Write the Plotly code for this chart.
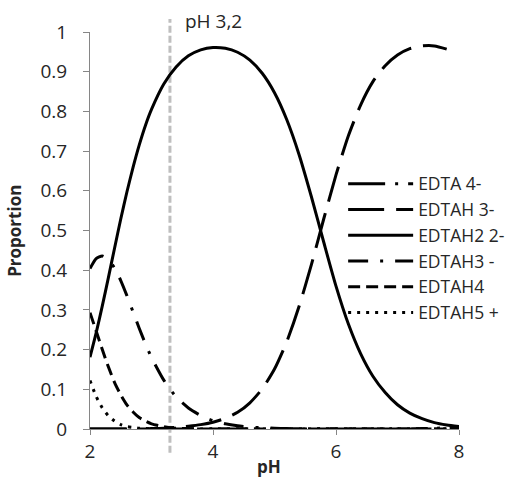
import plotly.graph_objects as go

ph = [2.0, 2.1, 2.2, 2.3, 2.4, 2.5, 2.6, 2.7, 2.8, 2.9, 3.0, 3.2, 3.4, 3.6, 3.8, 4.0,
      4.2, 4.4, 4.6, 4.8, 5.0, 5.2, 5.4, 5.6, 5.8, 6.0, 6.2, 6.4, 6.6, 6.8, 7.0, 7.2,
      7.4, 7.6, 7.8, 8.0]

edta4 = [0, 0, 0, 0, 0, 0, 0, 0, 0, 0, 0, 0, 0, 0, 0, 0,
         0, 0, 0, 0, 0, 0, 0, 0, 0, 0, 0, 0, 0, 0, 0, 0,
         0.001, 0.002, 0.003, 0.005]
edtah3 = [0, 0, 0, 0, 0, 0, 0, 0, 0, 0, 0.001, 0.002, 0.004, 0.007, 0.011, 0.017,
          0.027, 0.042, 0.066, 0.101, 0.151, 0.220, 0.309, 0.414, 0.529, 0.640, 0.738, 0.816,
          0.875, 0.915, 0.942, 0.958, 0.965, 0.965, 0.957, None]
edtah2 = [0.181, 0.242, 0.310, 0.382, 0.456, 0.529, 0.597, 0.659, 0.715, 0.764, 0.805, 0.869,
          0.912, 0.940, 0.955, 0.961, 0.959, 0.949, 0.929, 0.896, 0.847, 0.779, 0.691, 0.585,
          0.471, 0.360, 0.265, 0.190, 0.133, 0.092, 0.061, 0.040, 0.026, 0.016, 0.010, 0.006]
edtah3m = [0.404, 0.429, 0.436, 0.427, 0.405, 0.374, 0.336, 0.295, 0.254, 0.215, 0.180, 0.123,
           0.081, 0.053, 0.034, 0.021, 0.013, 0.008, 0.005, 0.003, 0.002, 0.001, 0, 0,
           0, 0, 0, 0, 0, 0, 0, 0, 0, 0, 0, 0]
edtah4 = [0.293, 0.247, 0.200, 0.156, 0.117, 0.086, 0.061, 0.043, 0.029, 0.020, 0.013, 0.006,
          0.002, 0.001, 0, 0, 0, 0, 0, 0, 0, 0, 0, 0,
          0, 0, 0, 0, 0, 0, 0, 0, 0, 0, 0, 0]
edtah5 = [0.122, 0.082, 0.053, 0.033, 0.020, 0.011, 0.006, 0.004, 0.002, 0.001, 0.0005, 0,
          0, 0, 0, 0, 0, 0, 0, 0, 0, 0, 0, 0,
          0, 0, 0, 0, 0, 0, 0, 0, 0, 0, 0, 0]

series_names = ["EDTA 4-", "EDTAH 3-", "EDTAH2 2-", "EDTAH3 -", "EDTAH4", "EDTAH5 +"]
series_values = [edta4, edtah3, edtah2, edtah3m, edtah4, edtah5]
series_dash = ["37px,10px,3px,10px", "36px,12px", "solid", "20px,12px,3px,12px", "12px,6px", "3px,6px"]

marker_ph = 3.3
marker_label = "pH 3,2"

y_ticks = [0, 0.1, 0.2, 0.3, 0.4, 0.5, 0.6, 0.7, 0.8, 0.9, 1]
y_ticktext = ["0", "0.1", "0.2", "0.3", "0.4", "0.5", "0.6", "0.7", "0.8", "0.9", "1"]
x_ticks = [2, 4, 6, 8]

FONT = "Open Sans"
TXT = "#262626"
AX = "#868686"

fig = go.Figure()
for name, vals, dash in zip(series_names, series_values, series_dash):
    fig.add_trace(go.Scatter(
        x=ph, y=vals, name=name, mode="lines",
        line=dict(color="black", width=3, dash=dash, shape="spline", smoothing=0.6),
        connectgaps=False,
    ))

fig.add_shape(type="line", xref="x", yref="paper", x0=marker_ph, x1=marker_ph,
              y0=-0.06, y1=1.033, line=dict(color="#BFBFBF", width=3, dash="7px,3px"),
              layer="below")

fig.add_annotation(text=marker_label, xref="x", yref="paper", x=3.52, y=1.028,
                   xanchor="left", yanchor="middle", showarrow=False,
                   font=dict(family=FONT, size=19, color=TXT))
fig.add_annotation(text="<b>pH</b>", xref="paper", yref="paper", x=0.485, y=-0.095,
                   xanchor="center", yanchor="middle", showarrow=False,
                   font=dict(family=FONT, size=17, color=TXT))
fig.add_annotation(text="<b>Proportion</b>", xref="paper", yref="paper", x=-0.205, y=0.5,
                   xanchor="center", yanchor="middle", showarrow=False, textangle=-90,
                   font=dict(family=FONT, size=17, color=TXT))

fig.update_layout(
    width=508, height=479,
    margin=dict(l=90, r=49, t=32, b=50, autoexpand=False),
    paper_bgcolor="white", plot_bgcolor="white",
    font=dict(family=FONT, size=19, color=TXT),
    showlegend=True,
    legend=dict(x=0.686, y=0.663, xanchor="left", yanchor="top",
                bgcolor="rgba(0,0,0,0)", font=dict(family=FONT, size=17.5, color=TXT),
                itemwidth=65, tracegroupgap=0),
    xaxis=dict(range=[2, 8], tickvals=x_ticks, showgrid=False, zeroline=False,
               showline=True, linecolor=AX, linewidth=1, ticks="outside",
               ticklen=5, tickcolor=AX, tickfont=dict(family=FONT, size=19, color=TXT)),
    yaxis=dict(range=[0, 1], tickvals=y_ticks, ticktext=y_ticktext, showgrid=False,
               zeroline=False, showline=True, linecolor=AX, linewidth=1, ticks="outside",
               ticklen=6, tickcolor=AX, ticklabelstandoff=12,
               tickfont=dict(family=FONT, size=19, color=TXT)),
)

fig.write_html("out.html", config={"displayModeBar": False},
               post_script="document.body.style.margin='0';")
